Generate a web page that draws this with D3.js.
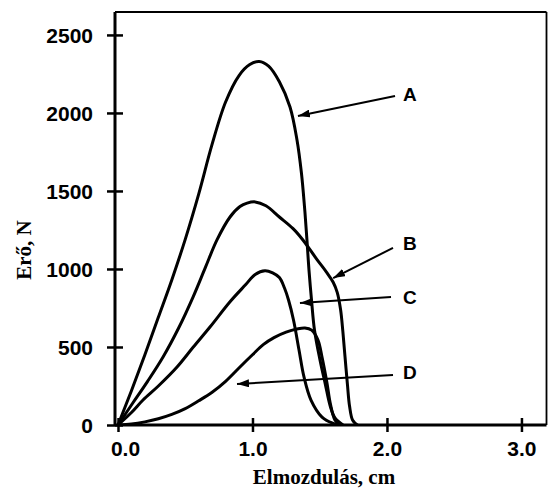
<!DOCTYPE html>
<html>
<head>
<meta charset="utf-8">
<script src="https://cdn.jsdelivr.net/npm/d3@7"></script>
<style>
  html, body { margin: 0; padding: 0; background: #fff; }
  svg { display: block; }
</style>
</head>
<body>
<svg id="chart" width="548" height="492"></svg>
<script>
// ---- data (displacement in cm, force in N) ----
const curveA = [[0,0],[0.1,220],[0.2,450],[0.3,690],[0.4,930],[0.5,1190],[0.6,1480],[0.7,1800],[0.8,2070],[0.9,2240],[0.98,2310],[1.05,2330],[1.12,2300],[1.2,2200],[1.279,2038],[1.331,1827],[1.364,1615],[1.387,1397],[1.405,1186],[1.42,994],[1.439,801],[1.461,609],[1.502,417],[1.543,256],[1.576,128],[1.613,45],[1.673,0]];
const curveB = [[0,0],[0.11,141],[0.22,280],[0.335,436],[0.45,620],[0.558,820],[0.65,1010],[0.736,1186],[0.833,1333],[0.907,1400],[0.96,1422],[1.02,1430],[1.1,1405],[1.2,1333],[1.3,1260],[1.375,1186],[1.48,1060],[1.55,980],[1.6,915],[1.63,850],[1.655,740],[1.672,600],[1.688,438],[1.706,260],[1.722,120],[1.745,30],[1.78,0]];
const curveC = [[0,0],[0.1,80],[0.186,160],[0.3,250],[0.439,372],[0.56,500],[0.684,628],[0.833,790],[0.95,900],[1.02,965],[1.093,989],[1.15,975],[1.2,945],[1.238,878],[1.268,801],[1.305,673],[1.346,481],[1.383,308],[1.435,160],[1.517,51],[1.6,10],[1.64,0]];
const curveD = [[0,0],[0.1,6],[0.2,20],[0.3,40],[0.4,68],[0.5,105],[0.6,155],[0.7,210],[0.8,280],[0.907,372],[1.0,450],[1.08,515],[1.16,560],[1.25,595],[1.33,615],[1.39,622],[1.44,608],[1.487,545],[1.517,436],[1.554,269],[1.578,141],[1.613,32],[1.65,0]];
const series = [curveA, curveB, curveC, curveD];

const xTicks = [0, 1, 2, 3];
const xTickLabels = ["0.0", "1.0", "2.0", "3.0"];
const yTicks = [0, 500, 1000, 1500, 2000, 2500];

const labels = ["A", "B", "C", "D"];
const arrowTailX = [2.06, 2.045, 2.03, 2.045];
const arrowTailY = [2109, 1135, 820, 320];
const arrowTipX = [1.338, 1.6, 1.353, 0.885];
const arrowTipY = [1981, 942, 782, 263];
const labelX = [2.119, 2.119, 2.119, 2.119];
const labelY = [2122, 1167, 820, 340];

const xTitle = "Elmozdulás, cm";
const yTitle = "Erő, N";

// ---- layout ----
const svg = d3.select("#chart");
const L = 115, R = 546.5, T = 12, B = 425;
const x = d3.scaleLinear().domain([-0.0223, 3.19]).range([L, 547]);
const y = d3.scaleLinear().domain([0, 2647]).range([B, T]);

const sans = "'Liberation Sans', Arial, Helvetica, sans-serif";
const serif = "'Liberation Serif', 'Times New Roman', serif";

// frame top & right
svg.append("line").attr("x1", L).attr("x2", R).attr("y1", T).attr("y2", T)
  .attr("stroke", "#000").attr("stroke-width", 2);
svg.append("line").attr("x1", R).attr("x2", R).attr("y1", T).attr("y2", B)
  .attr("stroke", "#000").attr("stroke-width", 1.8);

// curves (clipped to the plot area)
svg.append("defs").append("clipPath").attr("id", "plot")
  .append("rect").attr("x", L).attr("y", T).attr("width", R - L).attr("height", B - T);
const line = d3.line().x(d => x(d[0])).y(d => y(d[1])).curve(d3.curveCatmullRom.alpha(0.5));
svg.append("g").attr("clip-path", "url(#plot)").selectAll("path").data(series).join("path")
  .attr("d", line).attr("fill", "none").attr("stroke", "#000")
  .attr("stroke-width", 3).attr("stroke-linejoin", "round").attr("stroke-linecap", "round");

// y axis
const gy = svg.append("g").attr("transform", `translate(${L},0)`)
  .call(d3.axisLeft(y).tickValues(yTicks).tickFormat(d3.format("d")).tickSizeOuter(0).tickSize(8).tickPadding(14));
gy.select(".domain").attr("stroke-width", 3).attr("d", `M0,${T}V${B}`);
gy.selectAll(".tick line").attr("x1", 8).attr("x2", -8).attr("stroke-width", 2.5);
gy.selectAll(".tick text").attr("font-family", sans).attr("font-weight", "bold")
  .attr("font-size", 21).attr("fill", "#000").attr("dy", "0.36em");

// x axis
const gx = svg.append("g").attr("transform", `translate(0,${B})`)
  .call(d3.axisBottom(x).tickValues(xTicks).tickFormat((d, i) => xTickLabels[i]).tickSizeOuter(0).tickSize(7).tickPadding(9));
gx.select(".domain").attr("stroke-width", 3).attr("d", `M${L},0H${R}`);
gx.selectAll(".tick line").attr("y1", -7).attr("y2", 7).attr("stroke-width", 2.5);
gx.selectAll(".tick text").attr("font-family", sans).attr("font-weight", "bold")
  .attr("font-size", 21).attr("fill", "#000")
  .attr("dx", (d, i) => i === 0 ? 7 : 0);

// arrows
const defs = svg.select("defs");
defs.append("marker").attr("id", "ah").attr("viewBox", "0 0 12 8")
  .attr("refX", 12).attr("refY", 4).attr("markerWidth", 12).attr("markerHeight", 8)
  .attr("markerUnits", "userSpaceOnUse").attr("orient", "auto")
  .append("path").attr("d", "M0,0L12,4L0,8Z").attr("fill", "#000");

const ga = svg.append("g");
labels.forEach((lab, i) => {
  ga.append("line")
    .attr("x1", x(arrowTailX[i])).attr("y1", y(arrowTailY[i]))
    .attr("x2", x(arrowTipX[i])).attr("y2", y(arrowTipY[i]))
    .attr("stroke", "#000").attr("stroke-width", 2).attr("marker-end", "url(#ah)");
  ga.append("text").attr("x", x(labelX[i])).attr("y", y(labelY[i]))
    .attr("dy", "0.36em").attr("font-family", sans).attr("font-weight", "bold")
    .attr("font-size", 19).text(lab);
});

// axis titles
svg.append("text").attr("x", 324).attr("y", 484).attr("text-anchor", "middle")
  .attr("font-family", serif).attr("font-weight", "bold").attr("font-size", 21).text(xTitle);
svg.append("text").attr("transform", "translate(31,250) rotate(-90)").attr("text-anchor", "middle")
  .attr("font-family", serif).attr("font-weight", "bold").attr("font-size", 21).text(yTitle);
</script>
</body>
</html>
